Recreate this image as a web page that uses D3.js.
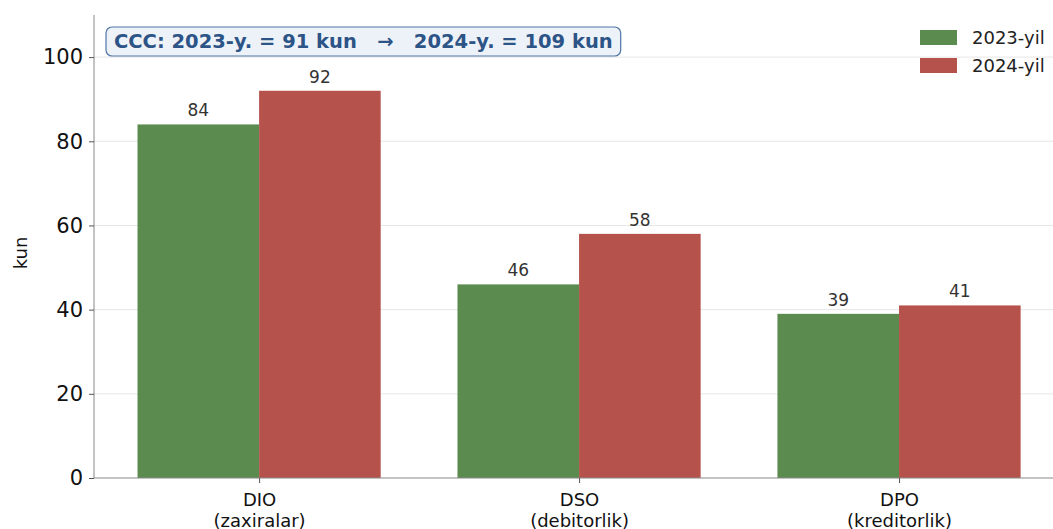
<!DOCTYPE html>
<html lang="en">
<head>
<meta charset="UTF-8">
<title>CCC</title>
<script src="https://d3js.org/d3.v7.min.js"></script>
<style>
  body { margin: 0; background: #fff; }
  svg { font-family: "DejaVu Sans", sans-serif; }
</style>
</head>
<body>
<svg id="chart" width="1053" height="529"></svg>
<script>
// data
var categories = ["DIO", "DSO", "DPO"];
var subLabels = ["(zaxiralar)", "(debitorlik)", "(kreditorlik)"];
var years = ["2023-yil", "2024-yil"];
var values2023 = [84, 46, 39];
var values2024 = [92, 58, 41];
var yTicks = [0, 20, 40, 60, 80, 100];
var colors = ["#5b8b4e", "#b4524b"];
var note = "CCC: 2023-y. = 91 kun   \u2192   2024-y. = 109 kun";

var svg = d3.select("#chart");
var mLeft = 94, mRight = 1219, mTop = 15, mBottom = 478;

// x in category units, one unit = 320px
var x = d3.scaleLinear().domain([-0.516, 3.0]).range([mLeft, mRight]);
var y = d3.scaleLinear().domain([0, 110]).range([mBottom, mTop]);
var barW = 0.38;

// grid
svg.append("g").selectAll("line").data(yTicks.slice(1)).join("line")
  .attr("x1", mLeft).attr("x2", 1053)
  .attr("y1", d => y(d)).attr("y2", d => y(d))
  .attr("stroke", "#e6e6e6").attr("stroke-width", 1);

// bars
var series = [values2023, values2024];
series.forEach(function (vals, s) {
  var g = svg.append("g");
  g.selectAll("rect").data(vals).join("rect")
    .attr("x", (d, i) => x(i + (s === 0 ? -barW : 0)))
    .attr("width", x(barW) - x(0))
    .attr("y", d => y(d))
    .attr("height", d => y(0) - y(d))
    .attr("fill", colors[s]);
  g.selectAll("text").data(vals).join("text")
    .attr("x", (d, i) => x(i + (s === 0 ? -barW / 2 : barW / 2)))
    .attr("y", d => y(d) - 8)
    .attr("text-anchor", "middle")
    .attr("font-size", 17)
    .attr("fill", "#333")
    .text(d => d);
});

// y axis
var yAxis = svg.append("g").attr("transform", "translate(" + mLeft + ",0)")
  .call(d3.axisLeft(y).tickValues(yTicks).tickSize(5).tickPadding(6));
yAxis.select(".domain").attr("stroke", "#888").attr("d", "M0," + mTop + "V" + mBottom);
yAxis.selectAll(".tick line").attr("stroke", "#555");
yAxis.selectAll("text").attr("font-size", 21).attr("fill", "#111")
  .attr("font-family", "DejaVu Sans, sans-serif");

// x axis
var xAxis = svg.append("g").attr("transform", "translate(0," + mBottom + ")")
  .call(d3.axisBottom(x).tickValues([0, 1, 2]).tickSize(5).tickFormat(""));
xAxis.select(".domain").attr("stroke", "#888").attr("d", "M" + mLeft + ",0H1053");
xAxis.selectAll(".tick line").attr("stroke", "#555");
xAxis.selectAll(".tick").each(function (d, i) {
  var t = d3.select(this).append("text").attr("fill", "#111")
    .attr("font-size", 18).attr("text-anchor", "middle")
    .attr("font-family", "DejaVu Sans, sans-serif");
  t.append("tspan").attr("x", 0).attr("y", 28).text(categories[i]);
  t.append("tspan").attr("x", 0).attr("y", 49).text(subLabels[i]);
});

// y label
svg.append("text")
  .attr("transform", "translate(27," + 253 + ") rotate(-90)")
  .attr("text-anchor", "middle").attr("font-size", 18).attr("fill", "#111")
  .text("kun");

// note box
var nb = svg.append("g");
var nt = nb.append("text").attr("x", 114).attr("y", 48)
  .attr("font-size", 19.5).attr("font-weight", "bold").attr("fill", "#2d5487")
  .attr("xml:space", "preserve").style("white-space", "pre")
  .text(note);
var bb = nt.node().getBBox();
nb.insert("rect", "text")
  .attr("x", bb.x - 8).attr("y", bb.y - 3)
  .attr("width", bb.width + 16).attr("height", bb.height + 6)
  .attr("rx", 6).attr("fill", "#edf2f8").attr("stroke", "#4f74a6").attr("stroke-width", 1.2);

// legend
var lg = svg.append("g").attr("transform", "translate(920,30)");
years.forEach(function (yr, i) {
  lg.append("rect").attr("x", 0).attr("y", i * 28).attr("width", 37).attr("height", 15)
    .attr("fill", colors[i]);
  lg.append("text").attr("x", 52).attr("y", i * 28 + 14).attr("font-size", 18)
    .attr("fill", "#222").text(yr);
});
</script>
</body>
</html>
